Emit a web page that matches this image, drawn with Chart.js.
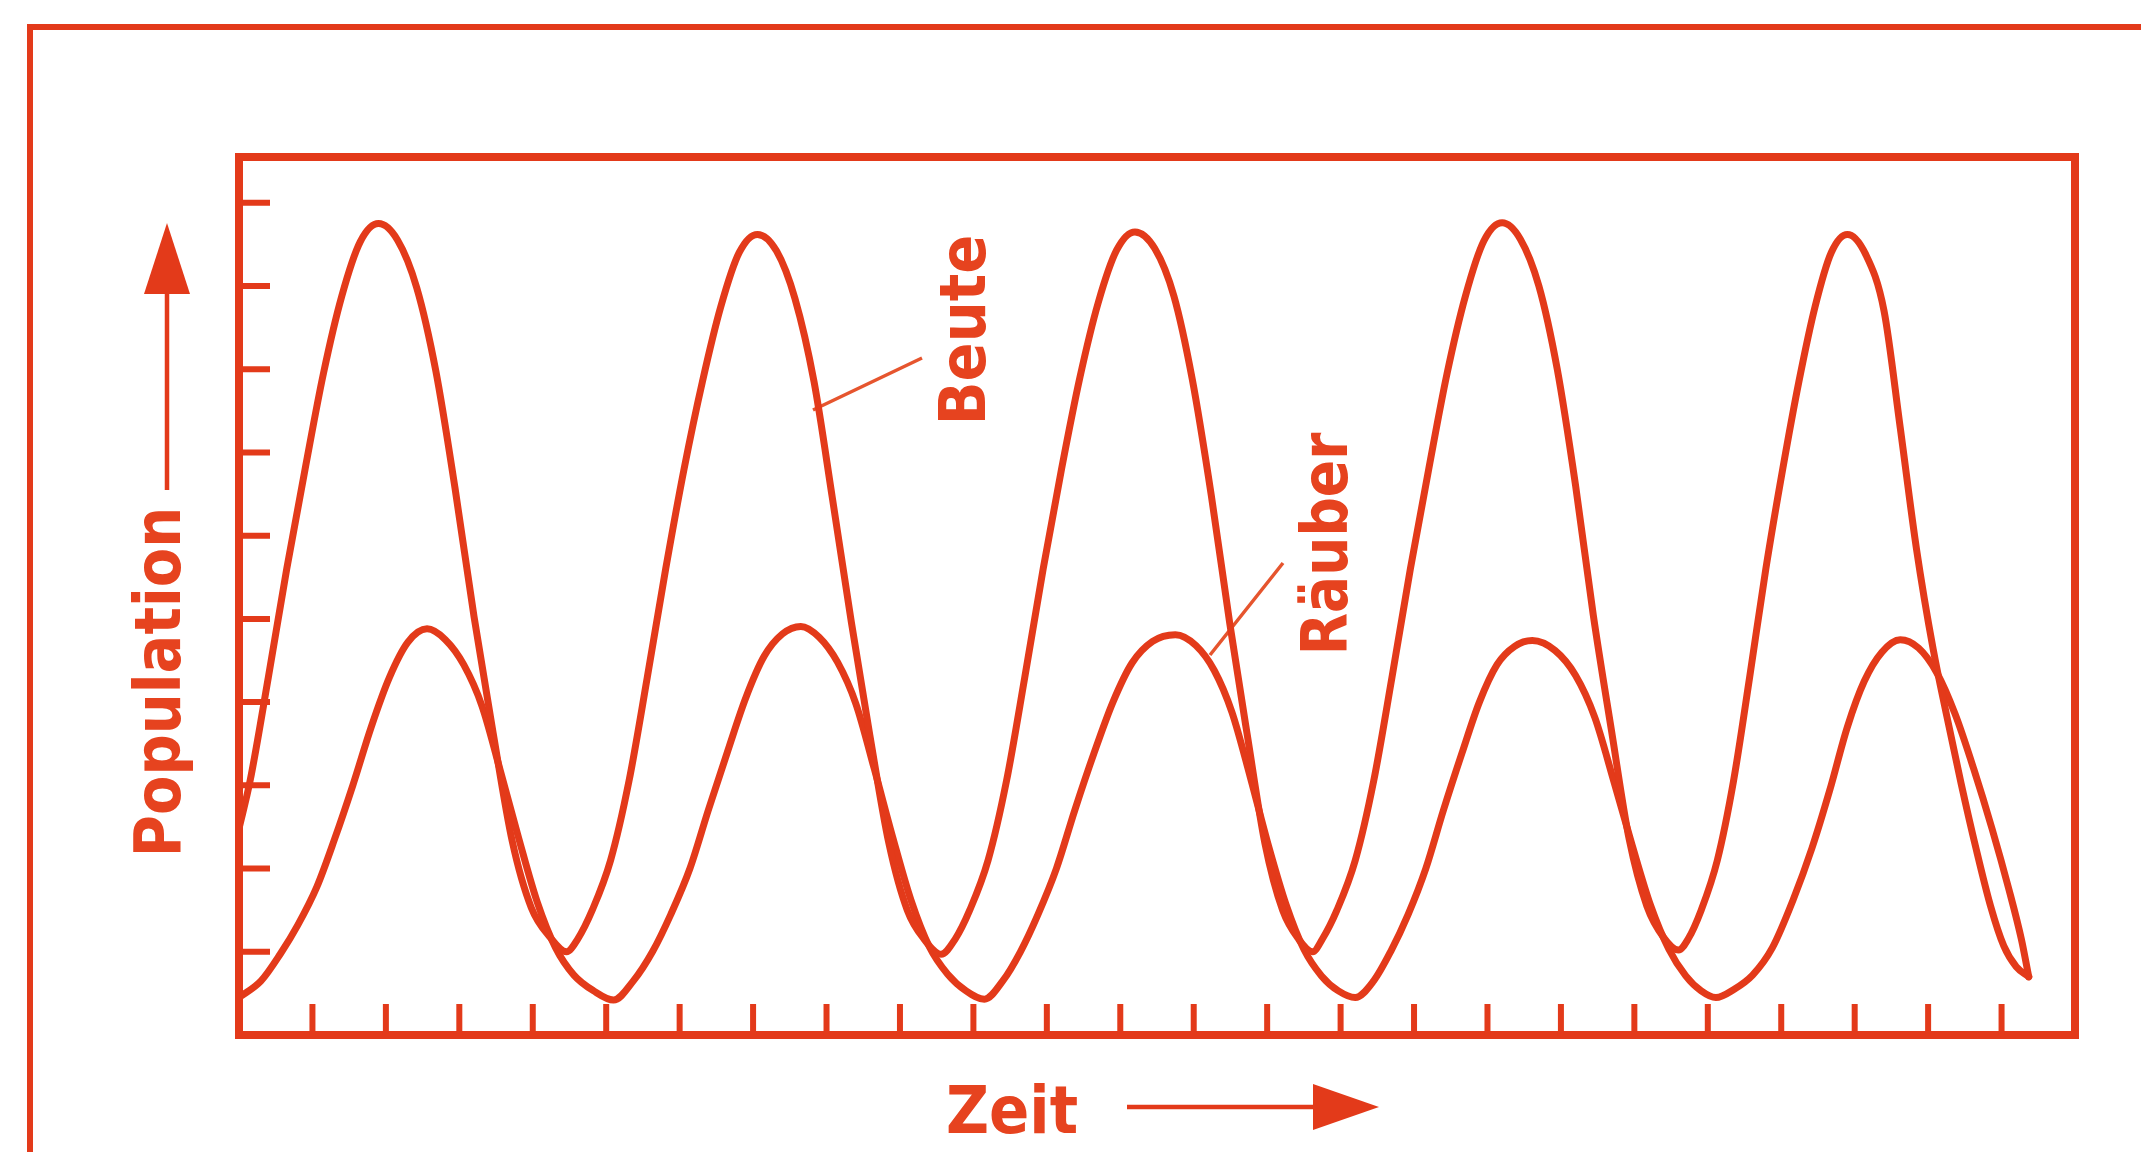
<!DOCTYPE html>
<html>
<head>
<meta charset="utf-8">
<script src="https://cdn.jsdelivr.net/npm/chart.js@4/dist/chart.umd.min.js"></script>
<style>
  html, body { margin: 0; padding: 0; background: #ffffff; }
  #wrap { width: 2141px; height: 1152px; position: relative; }
</style>
</head>
<body>
<div id="wrap"><canvas id="c"></canvas></div>
<script>
// ---- data (time units = x ticks, population units = y ticks) ----
const preyX = [0, 0.15, 0.4, 0.65, 0.9, 1.15, 1.4, 1.65, 1.9,
  2.16, 2.42, 2.68, 2.94, 3.2, 3.46, 3.72, 3.98, 4.24, 4.46,
  4.61, 4.81, 5.06, 5.31, 5.56, 5.81, 6.06, 6.31, 6.56, 6.81, 7.06,
  7.32, 7.57, 7.83, 8.08, 8.34, 8.59, 8.85, 9.1, 9.33, 9.56,
  9.75, 9.95, 10.2, 10.45, 10.7, 10.95, 11.2, 11.45, 11.7, 11.95, 12.2,
  12.47, 12.73, 12.98, 13.24, 13.49, 13.73, 13.97, 14.21, 14.43, 14.62,
  14.75, 14.95, 15.2, 15.45, 15.7, 15.95, 16.2, 16.45, 16.7, 16.95, 17.2,
  17.45, 17.7, 17.95, 18.2, 18.44, 18.69, 18.93, 19.17, 19.4, 19.6,
  19.73, 19.91, 20.13, 20.35, 20.57, 20.79, 21.02, 21.24, 21.46, 21.68, 21.9,
  22.15, 22.4, 22.62, 22.84, 23.07, 23.25, 23.45, 23.65, 23.85, 24.03, 24.2, 24.37];
const preyY = [2.48, 3.05, 4.3, 5.6, 6.8, 7.95, 8.88, 9.53, 9.75,
  9.55, 8.98, 7.98, 6.58, 5.03, 3.63, 2.33, 1.53, 1.17, 1.0,
  1.15, 1.5, 2.1, 3.05, 4.3, 5.6, 6.8, 7.85, 8.75, 9.4, 9.62,
  9.42, 8.85, 7.85, 6.45, 4.95, 3.6, 2.3, 1.5, 1.15, 0.97,
  1.15, 1.5, 2.1, 3.05, 4.3, 5.6, 6.8, 7.9, 8.8, 9.43, 9.65,
  9.45, 8.88, 7.88, 6.48, 4.95, 3.6, 2.3, 1.5, 1.15, 1.0,
  1.15, 1.5, 2.1, 3.05, 4.3, 5.6, 6.8, 7.95, 8.88, 9.54, 9.76,
  9.56, 9.0, 8.0, 6.6, 5.05, 3.65, 2.35, 1.55, 1.17, 1.02,
  1.15, 1.5, 2.1, 3.05, 4.3, 5.6, 6.8, 7.85, 8.75, 9.4, 9.62,
  9.38, 8.7, 7.3, 5.85, 4.63, 3.85, 3.02, 2.25, 1.55, 1.07, 0.82, 0.7];

const predX = [0, 0.3, 0.56, 0.8, 1.06, 1.3, 1.55, 1.8, 2.05, 2.3, 2.56,
  2.81, 3.06, 3.31, 3.56, 3.81, 4.06, 4.31, 4.56, 4.83, 5.1,
  5.37, 5.63, 5.88, 6.14, 6.39, 6.65, 6.9, 7.15, 7.4, 7.65,
  7.9, 8.15, 8.4, 8.65, 8.9, 9.15, 9.4, 9.65, 9.9, 10.15,
  10.4, 10.64, 10.88, 11.13, 11.38, 11.64, 11.9, 12.16, 12.44, 12.75,
  13.03, 13.28, 13.52, 13.77, 14.01, 14.26, 14.5, 14.74, 14.97, 15.2,
  15.45, 15.68, 15.92, 16.16, 16.4, 16.65, 16.89, 17.13, 17.37, 17.61,
  17.92, 18.2, 18.46, 18.72, 18.97, 19.22, 19.47, 19.7, 19.91, 20.11,
  20.36, 20.61, 20.88, 21.16, 21.42, 21.66, 21.9, 22.13, 22.37, 22.62,
  22.87, 23.12, 23.37, 23.62, 23.87, 24.1, 24.27, 24.37];
const predY = [0.45, 0.65, 0.97, 1.32, 1.78, 2.35, 3.0, 3.7, 4.3, 4.72, 4.88,
  4.75, 4.45, 3.95, 3.17, 2.36, 1.6, 1.05, 0.72, 0.53, 0.42,
  0.65, 1.0, 1.45, 2.0, 2.7, 3.4, 4.05, 4.55, 4.82, 4.91,
  4.78, 4.48, 3.98, 3.2, 2.38, 1.62, 1.06, 0.73, 0.53, 0.43,
  0.65, 1.0, 1.45, 2.0, 2.7, 3.38, 4.0, 4.47, 4.73, 4.81,
  4.68, 4.38, 3.88, 3.1, 2.3, 1.56, 1.03, 0.71, 0.53, 0.45,
  0.65, 1.0, 1.45, 2.0, 2.7, 3.38, 4.0, 4.45, 4.67, 4.74,
  4.62, 4.32, 3.82, 3.05, 2.28, 1.56, 1.03, 0.71, 0.53, 0.45,
  0.55, 0.72, 1.05, 1.62, 2.25, 2.94, 3.7, 4.25, 4.6, 4.75,
  4.65, 4.35, 3.85, 3.2, 2.48, 1.75, 1.15, 0.7];

const xTicks = [1, 2, 3, 4, 5, 6, 7, 8, 9, 10, 11, 12, 13, 14, 15, 16, 17, 18, 19, 20, 21, 22, 23, 24];
const yTicks = [1, 2, 3, 4, 5, 6, 7, 8, 9, 10];
const xRange = [0, 25];
const yRange = [0, 10.55];

const yTitle = 'Population';
const xTitle = 'Zeit';
const preyLabel = 'Beute';
const predLabel = 'Räuber';

// ---- styling ----
const RED = '#e33a1a';
const TEXT = '#e6431f';
const FONT = '"DejaVu Sans", sans-serif';

function pts(xs, ys) { return xs.map((v, i) => ({ x: v, y: ys[i] })); }

// draw text (optionally rotated) in a slightly condensed bold face
function drawText(ctx, s, x, y, size, rot, align, squeeze) {
  ctx.save();
  ctx.translate(x, y);
  if (rot) ctx.rotate(rot);
  ctx.scale(squeeze, 1);
  ctx.font = 'bold ' + size + 'px ' + FONT;
  ctx.fillStyle = TEXT;
  ctx.textBaseline = 'alphabetic';
  ctx.textAlign = align;
  ctx.fillText(s, 0, 0);
  ctx.restore();
}

const deco = {
  id: 'deco',
  beforeDraw(chart) {
    const { ctx, chartArea: a, scales } = chart;
    const xs = scales.x, ys = scales.y;
    ctx.save();
    ctx.fillStyle = '#ffffff';
    ctx.fillRect(0, 0, chart.width, chart.height);

    ctx.strokeStyle = RED;
    ctx.lineCap = 'butt';

    // outer frame (top + left edge of the page box)
    ctx.lineWidth = 6;
    ctx.beginPath();
    ctx.moveTo(a.left - 209, chart.height);
    ctx.lineTo(a.left - 209, a.top - 130);
    ctx.lineTo(chart.width, a.top - 130);
    ctx.stroke();

    // plot frame
    ctx.lineWidth = 8;
    ctx.strokeRect(a.left, a.top, a.right - a.left, a.bottom - a.top);

    // inward tick marks
    ctx.lineWidth = 6;
    ctx.beginPath();
    xTicks.forEach(v => {
      const px = xs.getPixelForValue(v);
      ctx.moveTo(px, a.bottom);
      ctx.lineTo(px, a.bottom - 31);
    });
    yTicks.forEach(v => {
      const py = ys.getPixelForValue(v);
      ctx.moveTo(a.left, py);
      ctx.lineTo(a.left + 31, py);
    });
    ctx.stroke();

    // axis titles
    drawText(ctx, yTitle, a.left - 59, a.top + 525, 64, -Math.PI / 2, 'center', 0.9);
    drawText(ctx, xTitle, a.left + 707, a.bottom + 98, 66, 0, 'left', 0.9);

    // arrows
    ctx.strokeStyle = RED;
    ctx.fillStyle = RED;
    ctx.lineWidth = 4.5;
    const ax = a.left - 72;
    ctx.beginPath();
    ctx.moveTo(ax, a.top + 333);
    ctx.lineTo(ax, a.top + 130);
    ctx.stroke();
    ctx.beginPath();
    ctx.moveTo(ax, a.top + 66);
    ctx.lineTo(ax - 23, a.top + 137);
    ctx.lineTo(ax + 23, a.top + 137);
    ctx.closePath();
    ctx.fill();
    const ay = a.bottom + 72;
    ctx.beginPath();
    ctx.moveTo(a.left + 888, ay);
    ctx.lineTo(a.left + 1080, ay);
    ctx.stroke();
    ctx.beginPath();
    ctx.moveTo(a.left + 1140, ay);
    ctx.lineTo(a.left + 1074, ay - 23);
    ctx.lineTo(a.left + 1074, ay + 23);
    ctx.closePath();
    ctx.fill();

    // curve labels with leader lines
    drawText(ctx, preyLabel, a.left + 746, a.top + 173, 64, -Math.PI / 2, 'center', 0.9);
    drawText(ctx, predLabel, a.left + 1108, a.top + 387, 64, -Math.PI / 2, 'center', 0.86);
    ctx.strokeStyle = '#e6552e';
    ctx.lineWidth = 3.5;
    ctx.beginPath();
    ctx.moveTo(a.left + 574, a.top + 253);
    ctx.lineTo(a.left + 683, a.top + 201);
    ctx.moveTo(a.left + 971, a.top + 498);
    ctx.lineTo(a.left + 1044, a.top + 406);
    ctx.stroke();
    ctx.restore();
  }
};

new Chart(document.getElementById('c'), {
  type: 'line',
  data: {
    datasets: [
      { label: preyLabel, data: pts(preyX, preyY), borderColor: RED, borderWidth: 7,
        pointRadius: 0, cubicInterpolationMode: 'monotone', fill: false,
        borderCapStyle: 'round', borderJoinStyle: 'round' },
      { label: predLabel, data: pts(predX, predY), borderColor: RED, borderWidth: 7,
        pointRadius: 0, cubicInterpolationMode: 'monotone', fill: false,
        borderCapStyle: 'round', borderJoinStyle: 'round' }
    ]
  },
  options: {
    responsive: true,
    maintainAspectRatio: false,
    animation: false,
    layout: { padding: { left: 239, top: 157, right: 66, bottom: 117 } },
    scales: {
      x: { type: 'linear', min: xRange[0], max: xRange[1], display: false },
      y: { type: 'linear', min: yRange[0], max: yRange[1], display: false }
    },
    plugins: { legend: { display: false }, tooltip: { enabled: false } }
  },
  plugins: [deco]
});
</script>
</body>
</html>
